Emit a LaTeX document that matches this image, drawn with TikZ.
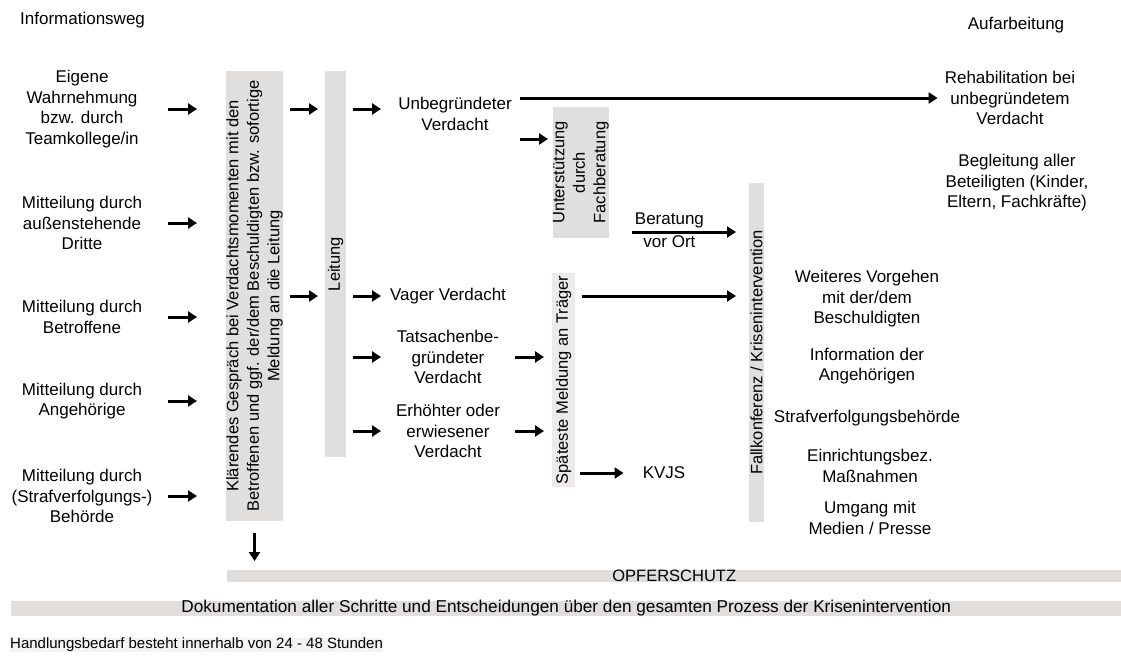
\documentclass[tikz,border=0pt]{standalone}
\usepackage{fontspec}
\setmainfont{Liberation Sans}
\usetikzlibrary{arrows.meta, positioning, calc}
\definecolor{barfill}{RGB}{225,222,222}
\definecolor{barlight}{RGB}{236,234,234}
\definecolor{barfaint}{RGB}{244,243,243}

\begin{document}
\begin{tikzpicture}
   [
      x=1pt, y=-1pt,
      txt/.style={align=center, inner sep=1pt, font=\fontsize{17}{20.5}\selectfont},
      bar/.style={fill=barfill, rotate=90, inner sep=0pt, align=center,
                  font=\fontsize{16.5}{20.5}\selectfont},
      strip/.style={fill=barfill, inner sep=0pt, anchor=west},
      arrow/.style={line width=3pt, -{Triangle[length=9pt, width=11pt]}}
   ]
   \useasboundingbox (0,0) rectangle (1121,664);

   % =======================================================
   % Headings
   % =======================================================
   \node[txt, inner sep=0pt, anchor=west] (info) at (20,20) {Informationsweg};
   \node[txt] (aufarb) at (1016,25) {Aufarbeitung};

   % =======================================================
   % Informationsweg (left column)
   % =======================================================
   \node[txt] (eigene) at (82,109) {Eigene\\Wahrnehmung\\bzw. durch\\Teamkollege/in};
   \node[txt] (dritte) at (82,223) {Mitteilung durch\\außenstehende\\Dritte};
   \node[txt] (betroffene) at (82,317) {Mitteilung durch\\Betroffene};
   \node[txt] (angeh) at (82,401) {Mitteilung durch\\Angehörige};
   \node[txt] (behoerde) at (82,496) {Mitteilung durch\\(Strafverfolgungs-)\\Behörde};

   % Bars
   \node[bar, minimum width=450pt, minimum height=57pt] (gespraech) at (254.5,296)
      {Klärendes Gespräch bei Verdachtsmomenten mit den\\
       Betroffenen und ggf. der/dem Beschuldigten bzw. sofortige\\
       Meldung an die Leitung};
   \node[bar, minimum width=386pt, minimum height=21pt] (leitung) at (335.5,264) {Leitung};
   \node[bar, minimum width=131pt, minimum height=54pt] (fach) at (581,172.5)
      {Unterstützung\\durch\\Fachberatung};
   \node[bar, fill=barlight, minimum width=214pt, minimum height=23pt] (traeger) at (563.5,380)
      {Späteste Meldung an Träger};
   \node[bar, minimum width=339pt, minimum height=15pt] (fall) at (756.5,352.5)
      {Fallkonferenz / Krisenintervention};

   % Verdacht levels
   \node[txt] (unbegr) at (455,114) {Unbegründeter\\Verdacht};
   \node[txt] (vager) at (448,296) {Vager Verdacht};
   \node[txt] (tatsachen) at (448,357) {Tatsachenbe-\\gründeter\\Verdacht};
   \node[txt] (erhoeht) at (448,431) {Erhöhter oder\\erwiesener\\Verdacht};
   \node[txt] (kvjs) at (664,473) {KVJS};

   % =======================================================
   % Aufarbeitung (right column)
   % =======================================================
   \node[txt] (rehab) at (1010,98) {Rehabilitation bei\\unbegründetem\\Verdacht};
   \node[txt] (begleitung) at (1017,183) {Begleitung aller\\Beteiligten (Kinder,\\Eltern, Fachkräfte)};
   \node[txt] (weiteres) at (867,299) {Weiteres Vorgehen\\mit der/dem\\Beschuldigten};
   \node[txt] (information) at (867,366) {Information der\\Angehörigen};
   \node[txt] (straf) at (867,418) {Strafverfolgungsbehörde};
   \node[txt] (einricht) at (870,466) {Einrichtungsbez.\\Maßnahmen};
   \node[txt] (umgang) at (870,518) {Umgang mit\\Medien / Presse};

   % Bottom strips
   \node[strip, minimum width=894pt, minimum height=12pt] (opfer) at (227,576) {};
   \node[inner sep=0pt, font=\fontsize{16.5}{18}\selectfont] (opfertxt) at (opfer.center) {OPFERSCHUTZ};
   \node[strip, minimum width=1110pt, minimum height=15pt] (doku) at (11,608) {};
   \node[inner sep=0pt, font=\fontsize{17.2}{19}\selectfont] (dokutxt) at (doku.center)
      {Dokumentation aller Schritte und Entscheidungen über den gesamten Prozess der Krisenintervention};
   \node[inner sep=0pt, anchor=west, fill=barfaint, font=\fontsize{15}{17}\selectfont] (handlung) at (10,645)
      {Handlungsbedarf besteht innerhalb von 24 - 48 Stunden};

   % =======================================================
   % Arrows
   % =======================================================
   \coordinate (inS) at (168,0);
   \coordinate (inE) at (197,0);
   \foreach \src in {eigene, dritte, betroffene, angeh, behoerde}
      \draw[arrow] (inS |- \src) -- (inE |- \src);

   \draw[arrow] (gespraech.west |- 0,533) -- (gespraech.west |- 0,561);

   \coordinate (leS) at (290,0);
   \coordinate (leE) at (318,0);
   \draw[arrow] (leS |- eigene) -- (leE |- eigene);
   \draw[arrow] (leS |- vager) -- (leE |- vager);

   \coordinate (veS) at (353,0);
   \coordinate (veE) at (381,0);
   \foreach \dst in {vager, tatsachen, erhoeht}
      \draw[arrow] (veS |- \dst) -- (veE |- \dst);
   \draw[arrow] (veS |- eigene) -- (veE |- eigene);

   \draw[arrow] ([xshift=7pt]unbegr.east |- rehab) -- ([xshift=-6pt]rehab.west);

   \coordinate (faS) at (520,139);
   \coordinate (faE) at (548,139);
   \draw[arrow] (faS) -- (faE);

   \coordinate (beS) at (632,232);
   \coordinate (beE) at (736,232);
   \draw[arrow] (beS) -- (beE)
      node[pos=0.36, above=1pt, txt] (beratung) {Beratung}
      node[pos=0.36, below=1pt, txt] (vorort) {vor Ort};

   \coordinate (trS) at (515,0);
   \coordinate (trE) at (544,0);
   \draw[arrow] (trS |- tatsachen) -- (trE |- tatsachen);
   \draw[arrow] (trS |- erhoeht) -- (trE |- erhoeht);

   \coordinate (faS2) at (582,0);
   \coordinate (faE2) at (736,0);
   \draw[arrow] (faS2 |- vager) -- (faE2 |- vager);
   \draw[arrow] (580,473) -- ([xshift=-18pt]kvjs.west);

\end{tikzpicture}
\end{document}
